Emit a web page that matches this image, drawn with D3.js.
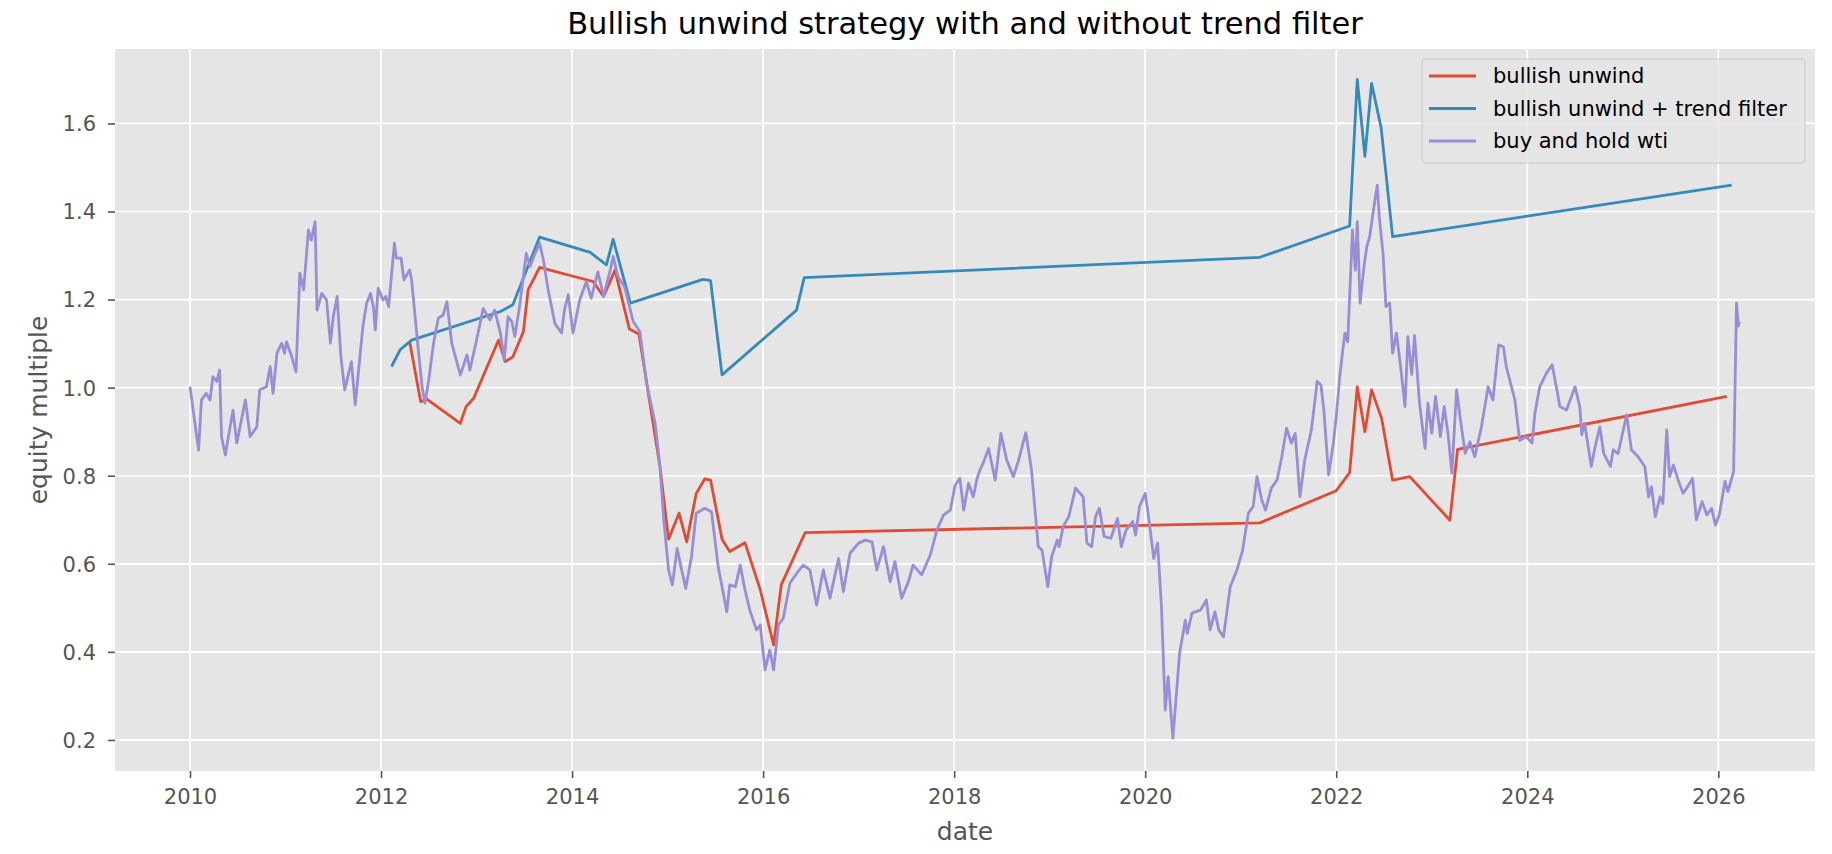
<!DOCTYPE html>
<html>
<head>
<meta charset="utf-8">
<script src="https://cdn.jsdelivr.net/npm/d3@7"></script>
<style>
  html, body { margin: 0; padding: 0; background: #ffffff; }
  svg { display: block; font-family: "DejaVu Sans", sans-serif; }
</style>
</head>
<body>
<svg id="chart" width="1832" height="854"></svg>
<script>
// ---------------- data (decimal year, equity multiple) ----------------
const titleText = "Bullish unwind strategy with and without trend filter";
const xLabel = "date";
const yLabel = "equity multiple";
const seriesNames = ["bullish unwind", "bullish unwind + trend filter", "buy and hold wti"];
const seriesColors = ["#E24A33", "#348ABD", "#988ED5"];
const xTicks = [2010, 2012, 2014, 2016, 2018, 2020, 2022, 2024, 2026];
const yTicks = [0.2, 0.4, 0.6, 0.8, 1.0, 1.2, 1.4, 1.6];

const bullishUnwind = [
  [2012.30,1.104],[2012.415,0.968],[2012.48,0.974],[2012.83,0.919],[2012.89,0.957],[2012.97,0.976],
  [2013.23,1.108],[2013.30,1.059],[2013.38,1.070],[2013.49,1.127],[2013.54,1.222],[2013.66,1.273],
  [2014.22,1.241],[2014.33,1.207],[2014.45,1.267],[2014.60,1.133],[2014.70,1.122],[2014.92,0.821],
  [2015.01,0.656],[2015.12,0.715],[2015.20,0.650],[2015.30,0.760],[2015.39,0.793],[2015.45,0.790],
  [2015.57,0.656],[2015.65,0.628],[2015.81,0.648],[2015.97,0.541],[2016.11,0.416],[2016.19,0.552],
  [2016.44,0.671],[2021.20,0.693],[2022.00,0.766],[2022.14,0.807],[2022.22,1.002],[2022.30,0.900],
  [2022.37,0.995],[2022.475,0.930],[2022.59,0.790],[2022.77,0.798],[2023.19,0.699],[2023.27,0.860],
  [2026.09,0.980]
];

const trendFilter = [
  [2012.11,1.048],[2012.20,1.086],[2012.32,1.108],[2013.25,1.173],[2013.38,1.188],[2013.66,1.342],
  [2014.19,1.307],[2014.36,1.279],[2014.43,1.337],[2014.61,1.192],[2015.37,1.246],[2015.45,1.243],
  [2015.57,1.029],[2016.35,1.176],[2016.43,1.250],[2021.20,1.296],[2022.14,1.367],[2022.22,1.700],
  [2022.30,1.525],[2022.37,1.691],[2022.47,1.590],[2022.59,1.343],[2026.14,1.460]
];

const buyHoldWti = [
  [2010.00,1.002],[2010.09,0.858],[2010.12,0.972],[2010.17,0.987],[2010.21,0.972],[2010.24,1.025],
  [2010.28,1.014],[2010.31,1.040],[2010.33,0.889],[2010.37,0.847],[2010.45,0.949],[2010.49,0.874],
  [2010.58,0.972],[2010.63,0.889],[2010.70,0.911],[2010.73,0.995],[2010.80,1.002],[2010.84,1.048],
  [2010.87,0.987],[2010.91,1.078],[2010.96,1.101],[2010.99,1.078],[2011.01,1.104],[2011.06,1.074],
  [2011.11,1.036],[2011.15,1.260],[2011.19,1.222],[2011.24,1.358],[2011.27,1.335],[2011.31,1.377],
  [2011.33,1.176],[2011.38,1.214],[2011.43,1.199],[2011.47,1.101],[2011.50,1.161],[2011.54,1.207],
  [2011.58,1.070],[2011.62,0.995],[2011.69,1.059],[2011.73,0.961],[2011.81,1.139],[2011.85,1.192],
  [2011.89,1.214],[2011.92,1.184],[2011.94,1.131],[2011.97,1.226],[2012.02,1.199],[2012.05,1.207],
  [2012.08,1.184],[2012.14,1.328],[2012.16,1.294],[2012.21,1.294],[2012.24,1.245],[2012.30,1.267],
  [2012.32,1.245],[2012.39,1.086],[2012.43,1.002],[2012.46,0.965],[2012.50,1.018],[2012.55,1.101],
  [2012.60,1.158],[2012.65,1.165],[2012.69,1.195],[2012.74,1.101],[2012.83,1.029],[2012.90,1.074],
  [2012.93,1.040],[2013.00,1.108],[2013.07,1.180],[2013.14,1.154],[2013.19,1.176],[2013.25,1.124],
  [2013.29,1.063],[2013.33,1.161],[2013.37,1.150],[2013.40,1.116],[2013.45,1.184],[2013.52,1.305],
  [2013.56,1.275],[2013.60,1.298],[2013.66,1.328],[2013.70,1.290],[2013.75,1.222],[2013.82,1.146],
  [2013.89,1.124],[2013.92,1.176],[2013.96,1.211],[2014.01,1.124],[2014.08,1.199],[2014.15,1.241],
  [2014.20,1.203],[2014.27,1.263],[2014.33,1.207],[2014.40,1.267],[2014.43,1.298],[2014.48,1.252],
  [2014.55,1.229],[2014.64,1.150],[2014.71,1.127],[2014.78,1.010],[2014.87,0.919],[2014.92,0.821],
  [2014.96,0.700],[2015.01,0.586],[2015.05,0.552],[2015.10,0.635],[2015.14,0.593],[2015.19,0.544],
  [2015.25,0.616],[2015.30,0.715],[2015.39,0.726],[2015.46,0.718],[2015.53,0.593],[2015.62,0.491],
  [2015.65,0.552],[2015.71,0.548],[2015.76,0.597],[2015.81,0.541],[2015.86,0.495],[2015.93,0.450],
  [2015.97,0.461],[2016.02,0.359],[2016.07,0.404],[2016.11,0.359],[2016.16,0.461],[2016.21,0.476],
  [2016.28,0.556],[2016.35,0.578],[2016.42,0.597],[2016.49,0.586],[2016.56,0.506],[2016.63,0.586],
  [2016.70,0.522],[2016.79,0.612],[2016.84,0.537],[2016.91,0.624],[2017.00,0.647],[2017.07,0.654],
  [2017.14,0.650],[2017.19,0.586],[2017.26,0.639],[2017.33,0.559],[2017.38,0.605],[2017.45,0.522],
  [2017.52,0.559],[2017.57,0.597],[2017.66,0.575],[2017.75,0.620],[2017.82,0.677],[2017.89,0.711],
  [2017.96,0.722],[2018.01,0.779],[2018.06,0.794],[2018.10,0.722],[2018.15,0.783],[2018.20,0.752],
  [2018.24,0.794],[2018.27,0.813],[2018.31,0.832],[2018.36,0.862],[2018.43,0.790],[2018.49,0.896],
  [2018.55,0.836],[2018.62,0.798],[2018.67,0.832],[2018.75,0.898],[2018.81,0.813],[2018.88,0.639],
  [2018.92,0.631],[2018.98,0.548],[2019.02,0.616],[2019.08,0.654],[2019.10,0.639],[2019.14,0.684],
  [2019.20,0.707],[2019.27,0.772],[2019.32,0.760],[2019.35,0.752],[2019.39,0.647],[2019.44,0.639],
  [2019.48,0.707],[2019.52,0.726],[2019.57,0.662],[2019.64,0.658],[2019.71,0.703],[2019.75,0.639],
  [2019.80,0.677],[2019.87,0.696],[2019.90,0.665],[2019.94,0.730],[2020.00,0.760],[2020.03,0.715],
  [2020.09,0.612],[2020.13,0.647],[2020.17,0.503],[2020.21,0.268],[2020.24,0.344],[2020.29,0.204],
  [2020.36,0.397],[2020.42,0.472],[2020.44,0.442],[2020.49,0.488],[2020.58,0.495],[2020.64,0.518],
  [2020.68,0.450],[2020.73,0.491],[2020.77,0.450],[2020.82,0.434],[2020.89,0.548],[2020.96,0.586],
  [2021.02,0.631],[2021.08,0.715],[2021.13,0.730],[2021.17,0.798],[2021.22,0.745],[2021.26,0.722],
  [2021.32,0.772],[2021.38,0.790],[2021.43,0.843],[2021.48,0.908],[2021.53,0.874],[2021.57,0.896],
  [2021.62,0.752],[2021.67,0.836],[2021.74,0.904],[2021.80,1.014],[2021.84,1.006],[2021.87,0.949],
  [2021.92,0.802],[2021.97,0.874],[2022.00,0.934],[2022.04,1.033],[2022.09,1.124],[2022.12,1.104],
  [2022.17,1.358],[2022.20,1.267],[2022.22,1.377],[2022.25,1.192],[2022.29,1.275],[2022.32,1.320],
  [2022.35,1.343],[2022.39,1.404],[2022.43,1.460],[2022.45,1.388],[2022.49,1.305],[2022.52,1.184],
  [2022.56,1.192],[2022.59,1.078],[2022.63,1.124],[2022.67,1.055],[2022.72,0.957],[2022.75,1.116],
  [2022.79,1.030],[2022.82,1.118],[2022.87,0.968],[2022.93,0.862],[2022.96,0.965],[2023.00,0.896],
  [2023.04,0.980],[2023.09,0.889],[2023.13,0.957],[2023.17,0.896],[2023.21,0.806],[2023.26,0.995],
  [2023.30,0.927],[2023.35,0.851],[2023.40,0.877],[2023.45,0.843],[2023.52,0.911],[2023.59,1.002],
  [2023.64,0.972],[2023.70,1.097],[2023.75,1.093],[2023.78,1.048],[2023.87,0.972],[2023.92,0.880],
  [2023.99,0.889],[2024.05,0.874],[2024.08,0.942],[2024.13,1.002],[2024.20,1.033],[2024.26,1.052],
  [2024.31,0.995],[2024.34,0.957],[2024.41,0.949],[2024.50,1.002],[2024.55,0.957],[2024.57,0.893],
  [2024.60,0.919],[2024.67,0.821],[2024.71,0.866],[2024.76,0.911],[2024.80,0.851],[2024.87,0.821],
  [2024.90,0.859],[2024.95,0.850],[2025.04,0.938],[2025.09,0.859],[2025.16,0.843],[2025.23,0.821],
  [2025.27,0.752],[2025.30,0.775],[2025.34,0.707],[2025.39,0.752],[2025.42,0.737],[2025.46,0.904],
  [2025.49,0.798],[2025.53,0.824],[2025.58,0.790],[2025.63,0.760],[2025.67,0.772],[2025.73,0.794],
  [2025.77,0.700],[2025.83,0.741],[2025.88,0.711],[2025.93,0.726],[2025.97,0.688],[2026.01,0.711],
  [2026.07,0.787],[2026.10,0.764],[2026.16,0.809],[2026.19,1.192],[2026.21,1.140],[2026.22,1.150]
];

// ---------------- layout ----------------
const svg = d3.select("#chart");
const plot = { left: 115, right: 1815, top: 49, bottom: 771 };

const x = d3.scaleLinear().domain([2009.215, 2027.012]).range([plot.left, plot.right]);
const y = d3.scaleLinear().domain([0.1295, 1.769]).range([plot.bottom, plot.top]);

// background
svg.append("rect")
  .attr("x", plot.left).attr("y", plot.top)
  .attr("width", plot.right - plot.left).attr("height", plot.bottom - plot.top)
  .attr("fill", "#E5E5E5");

// grid
const grid = svg.append("g");
grid.selectAll("line.gx").data(xTicks).enter().append("line")
  .attr("x1", d => x(d)).attr("x2", d => x(d))
  .attr("y1", plot.top).attr("y2", plot.bottom)
  .attr("stroke", "#ffffff").attr("stroke-width", 1.7);
grid.selectAll("line.gy").data(yTicks).enter().append("line")
  .attr("y1", d => y(d)).attr("y2", d => y(d))
  .attr("x1", plot.left).attr("x2", plot.right)
  .attr("stroke", "#ffffff").attr("stroke-width", 1.7);

// axes
const xAxis = svg.append("g").attr("transform", `translate(0,${plot.bottom})`)
  .call(d3.axisBottom(x).tickValues(xTicks).tickSize(7).tickFormat(d3.format("d")));
const yAxis = svg.append("g").attr("transform", `translate(${plot.left},0)`)
  .call(d3.axisLeft(y).tickValues(yTicks).tickSize(7).tickFormat(d3.format(".1f")));
[xAxis, yAxis].forEach(g => {
  g.select(".domain").remove();
  g.selectAll(".tick line").attr("stroke", "#555555").attr("stroke-width", 1.6);
  g.selectAll(".tick text")
    .attr("fill", "#555555")
    .style("font-family", "DejaVu Sans")
    .style("font-size", "21px");
});
xAxis.selectAll(".tick text").attr("y", 33).attr("dy", null);
yAxis.selectAll(".tick text").attr("x", -19).attr("dy", "0.35em");

// lines
const line = d3.line().x(d => x(d[0])).y(d => y(d[1]));
const allSeries = [bullishUnwind, trendFilter, buyHoldWti];
svg.append("g").selectAll("path").data(allSeries).enter().append("path")
  .attr("d", d => line(d))
  .attr("fill", "none")
  .attr("stroke", (d, i) => seriesColors[i])
  .attr("stroke-width", 2.8)
  .attr("stroke-linejoin", "round")
  .attr("stroke-linecap", "butt");

// title & labels
svg.append("text")
  .attr("x", (plot.left + plot.right) / 2).attr("y", 34)
  .attr("text-anchor", "middle")
  .style("font-size", "30.5px").attr("fill", "#000000")
  .text(titleText);
svg.append("text")
  .attr("x", (plot.left + plot.right) / 2).attr("y", 840)
  .attr("text-anchor", "middle")
  .style("font-size", "25px").attr("fill", "#555555")
  .text(xLabel);
svg.append("text")
  .attr("transform", `translate(47,${(plot.top + plot.bottom) / 2}) rotate(-90)`)
  .attr("text-anchor", "middle")
  .style("font-size", "25px").attr("fill", "#555555")
  .text(yLabel);

// legend
const legend = svg.append("g");
legend.append("rect")
  .attr("x", 1422).attr("y", 59).attr("width", 383).attr("height", 104)
  .attr("rx", 4).attr("ry", 4)
  .attr("fill", "#E5E5E5").attr("fill-opacity", 0.8)
  .attr("stroke", "#cccccc").attr("stroke-width", 1.2);
const rows = legend.selectAll("g.row").data(seriesNames).enter().append("g")
  .attr("transform", (d, i) => `translate(0,${76 + i * 32.5})`);
rows.append("line")
  .attr("x1", 1429).attr("x2", 1476).attr("y1", 0).attr("y2", 0)
  .attr("stroke", (d, i) => seriesColors[i]).attr("stroke-width", 2.8);
rows.append("text")
  .attr("x", 1493).attr("y", 0).attr("dy", "0.35em")
  .style("font-size", "21px").attr("fill", "#000000")
  .text(d => d);
</script>
</body>
</html>
